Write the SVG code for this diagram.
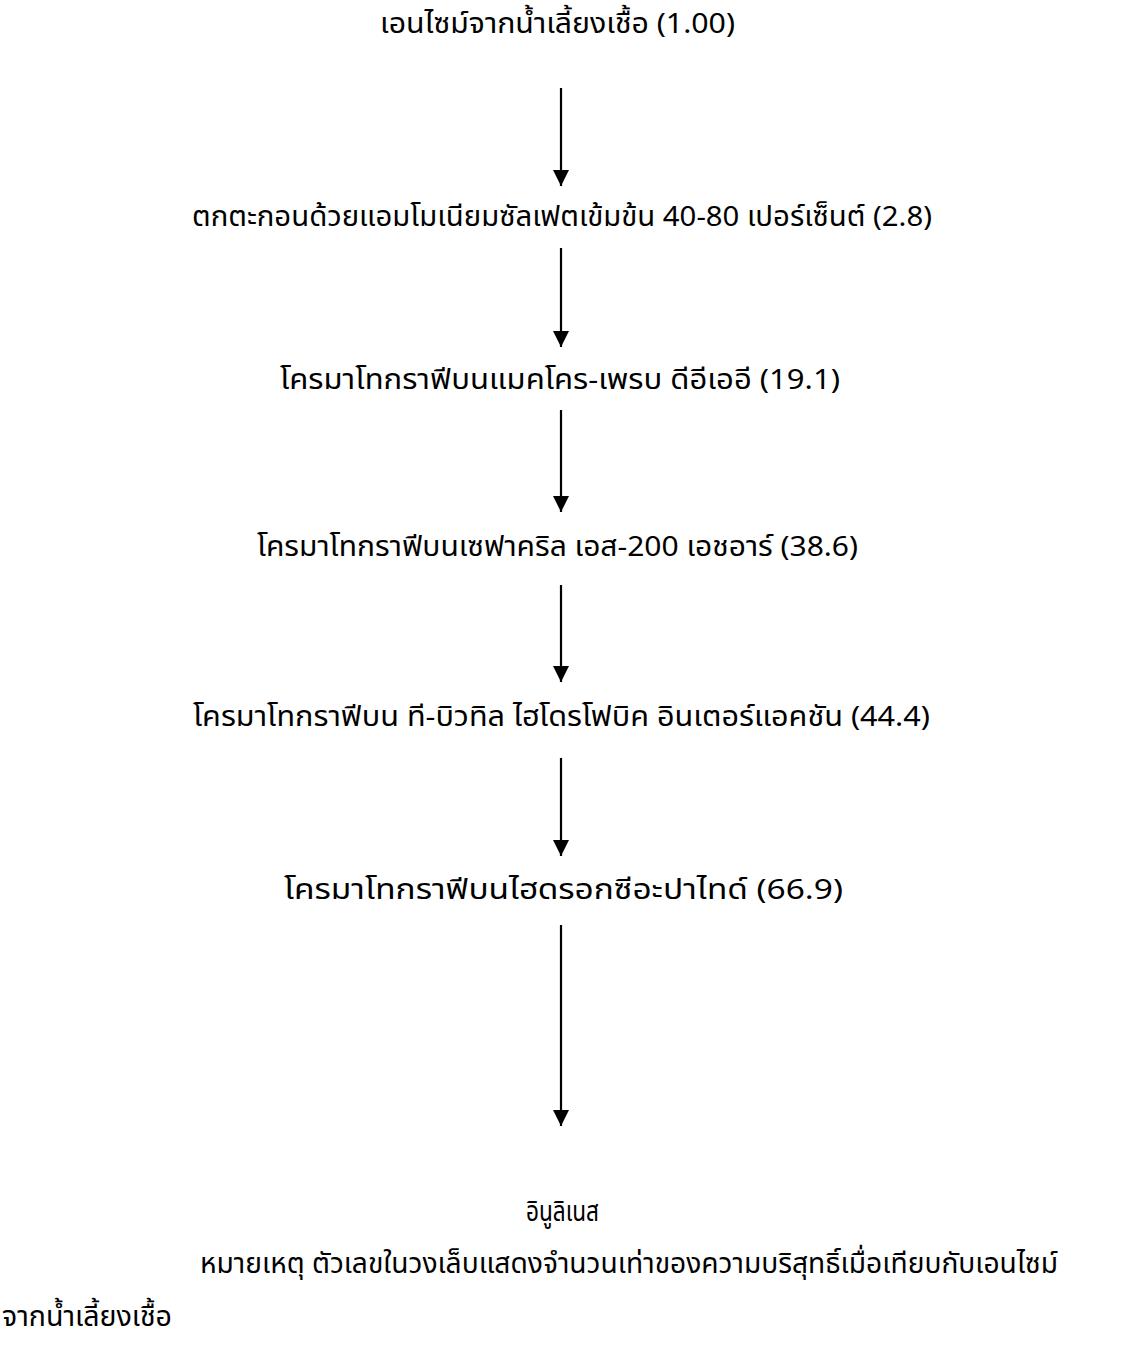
<svg xmlns="http://www.w3.org/2000/svg" width="1127" height="1352" viewBox="0 0 1127 1352">
<style>
.t{font-family:"Noto Sans Thai","Noto Sans","DejaVu Sans",sans-serif;font-size:28px;fill:#000}
.c{text-anchor:middle}
.a{stroke:#000;stroke-width:2.2;fill:none}
</style>
<defs>
<marker id="ah" viewBox="0 0 16 16" refX="16" refY="8" markerWidth="16" markerHeight="16" markerUnits="userSpaceOnUse" orient="auto">
<path d="M0,0 L16,8 L0,16 Z" fill="#000"/>
</marker>
</defs>
<rect width="1127" height="1352" fill="#fff"/>
<g id="connectors">
<line class="a" x1="561" y1="88" x2="561" y2="186" marker-end="url(#ah)"/>
<line class="a" x1="561" y1="248" x2="561" y2="347" marker-end="url(#ah)"/>
<line class="a" x1="561" y1="410" x2="561" y2="512" marker-end="url(#ah)"/>
<line class="a" x1="561" y1="585" x2="561" y2="682" marker-end="url(#ah)"/>
<line class="a" x1="561" y1="758" x2="561" y2="856" marker-end="url(#ah)"/>
<line class="a" x1="561" y1="925" x2="561" y2="1126" marker-end="url(#ah)"/>
</g>
<g id="n1"><text class="t c" x="557.5" y="33" textLength="355" lengthAdjust="spacingAndGlyphs">เอนไซม์จากน้ำเลี้ยงเชื้อ (1.00)</text></g>
<g id="n2"><text class="t c" x="562" y="226" textLength="740" lengthAdjust="spacingAndGlyphs">ตกตะกอนด้วยแอมโมเนียมซัลเฟตเข้มข้น 40-80 เปอร์เซ็นต์ (2.8)</text></g>
<g id="n3"><text class="t c" x="560" y="389" textLength="560" lengthAdjust="spacingAndGlyphs">โครมาโทกราฟีบนแมคโคร-เพรบ ดีอีเออี (19.1)</text></g>
<g id="n4"><text class="t c" x="557.5" y="556" textLength="601" lengthAdjust="spacingAndGlyphs">โครมาโทกราฟีบนเซฟาคริล เอส-200 เอชอาร์ (38.6)</text></g>
<g id="n5"><text class="t c" x="561.5" y="726" textLength="737" lengthAdjust="spacingAndGlyphs">โครมาโทกราฟีบน ที-บิวทิล ไฮโดรโฟบิค อินเตอร์แอคชัน (44.4)</text></g>
<g id="n6"><text class="t c" x="563.5" y="899" textLength="559" lengthAdjust="spacingAndGlyphs">โครมาโทกราฟีบนไฮดรอกซีอะปาไทด์ (66.9)</text></g>
<g id="n7"><text class="t c" x="562.5" y="1221" textLength="73" lengthAdjust="spacingAndGlyphs">อินูลิเนส</text></g>
<g id="note">
<text class="t" x="200" y="1273" textLength="858" lengthAdjust="spacingAndGlyphs">หมายเหตุ ตัวเลขในวงเล็บแสดงจำนวนเท่าของความบริสุทธิ์เมื่อเทียบกับเอนไซม์</text>
<text class="t" x="2" y="1326" textLength="170" lengthAdjust="spacingAndGlyphs">จากน้ำเลี้ยงเชื้อ</text>
</g>
</svg>
